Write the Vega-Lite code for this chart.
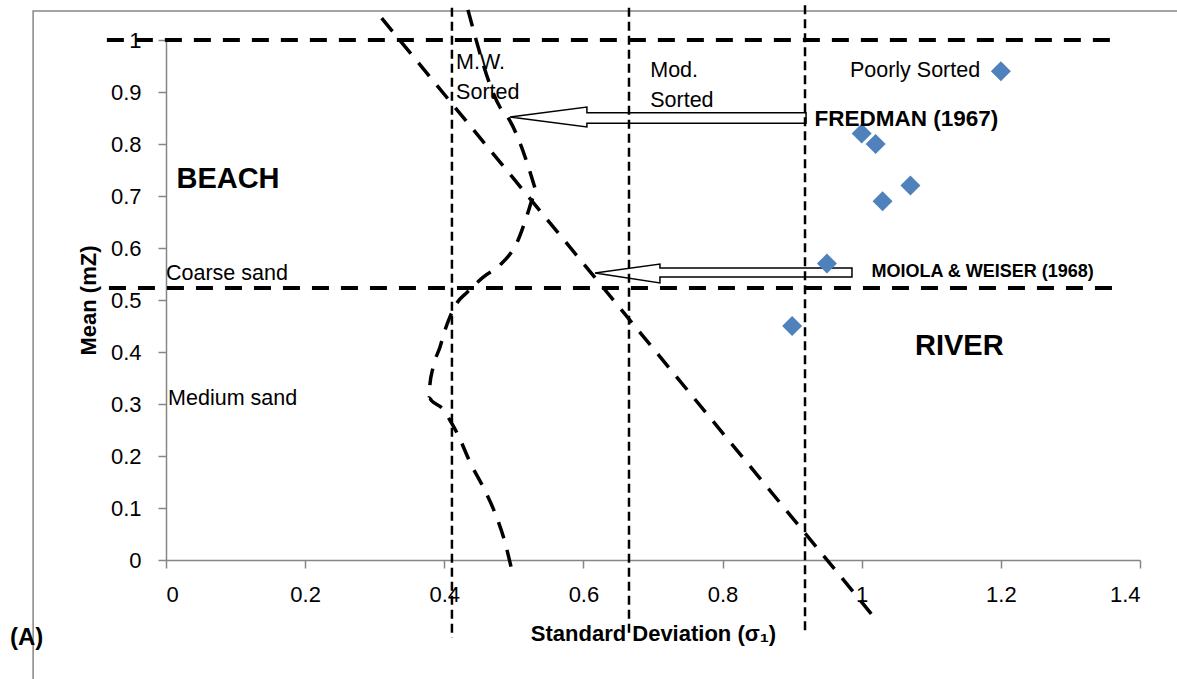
{
  "$schema": "https://vega.github.io/schema/vega-lite/v6.json",
  "width": 974,
  "height": 520,
  "autosize": {"type": "none"},
  "padding": {"left": 166, "top": 40, "right": 37, "bottom": 119},
  "background": "white",
  "config": {"view": {"stroke": null}, "font": "Liberation Sans"},
  "encoding": {
    "x": {
      "field": "x", "type": "quantitative",
      "scale": {"domain": [0, 1.4], "nice": false, "zero": false},
      "axis": {
        "title": "Standard Deviation (σ₁)",
        "values": [0, 0.2, 0.4, 0.6, 0.8, 1, 1.2, 1.4],
        "format": "~g", "grid": false,
        "labelFontSize": 22, "labelColor": "#000000", "labelPadding": 16,
        "tickColor": "#868686", "tickSize": 8, "tickWidth": 1.5,
        "domainColor": "#868686", "domainWidth": 1.5,
        "titleFontSize": 22, "titleFontWeight": "bold", "titleColor": "#000000", "titlePadding": 18
      }
    },
    "y": {
      "field": "y", "type": "quantitative",
      "scale": {"domain": [0, 1], "nice": false, "zero": false},
      "axis": {
        "title": "Mean (mZ)",
        "values": [0, 0.1, 0.2, 0.3, 0.4, 0.5, 0.6, 0.7, 0.8, 0.9, 1],
        "format": "~g", "grid": false,
        "labelFontSize": 22, "labelColor": "#000000", "labelPadding": 17,
        "tickColor": "#868686", "tickSize": 8, "tickWidth": 1.5,
        "domainColor": "#868686", "domainWidth": 1.5,
        "titleFontSize": 22, "titleFontWeight": "bold", "titleColor": "#000000", "titlePadding": 10
      }
    }
  },
  "layer": [
    {
      "data": {"values": [{"x": -0.191, "x2": 1.7, "y": 1.0558, "y2": -0.5}]},
      "mark": {"type": "rect", "fill": null, "stroke": "#868686", "strokeWidth": 1.5, "clip": false},
      "encoding": {"x2": {"field": "x2"}, "y2": {"field": "y2"}}
    },
    {
      "data": {"values": [
        {"id": "F", "i": 0, "x": 0.4945, "y": 0.852},
        {"id": "F", "i": 1, "x": 0.605, "y": 0.871},
        {"id": "F", "i": 2, "x": 0.605, "y": 0.860},
        {"id": "F", "i": 3, "x": 0.920, "y": 0.860},
        {"id": "F", "i": 4, "x": 0.920, "y": 0.840},
        {"id": "F", "i": 5, "x": 0.605, "y": 0.840},
        {"id": "F", "i": 6, "x": 0.605, "y": 0.8327},
        {"id": "F", "i": 7, "x": 0.4945, "y": 0.852},
        {"id": "M", "i": 0, "x": 0.6166, "y": 0.552},
        {"id": "M", "i": 1, "x": 0.710, "y": 0.569},
        {"id": "M", "i": 2, "x": 0.710, "y": 0.5615},
        {"id": "M", "i": 3, "x": 0.986, "y": 0.5615},
        {"id": "M", "i": 4, "x": 0.986, "y": 0.5442},
        {"id": "M", "i": 5, "x": 0.710, "y": 0.5442},
        {"id": "M", "i": 6, "x": 0.710, "y": 0.5327},
        {"id": "M", "i": 7, "x": 0.6166, "y": 0.552}
      ]},
      "mark": {"type": "line", "color": "#000000", "strokeWidth": 1.5, "strokeJoin": "miter"},
      "encoding": {"detail": {"field": "id"}, "order": {"field": "i", "type": "quantitative"}}
    },
    {
      "data": {"values": [
        {"x": -0.085, "x2": 1.361, "y": 1.0},
        {"x": -0.082, "x2": 1.3655, "y": 0.523}
      ]},
      "mark": {"type": "rule", "color": "#000000", "strokeWidth": 4, "strokeDash": [17, 12]},
      "encoding": {"x2": {"field": "x2"}}
    },
    {
      "data": {"values": [
        {"x": 0.411, "y": 1.062, "y2": -0.15},
        {"x": 0.6655, "y": 1.062, "y2": -0.148},
        {"x": 0.9185, "y": 1.067, "y2": -0.14}
      ]},
      "mark": {"type": "rule", "color": "#000000", "strokeWidth": 2.5, "strokeDash": [9, 5]},
      "encoding": {"y2": {"field": "y2"}}
    },
    {
      "data": {"values": [{"x": 0.310, "y": 1.042, "x2": 1.019, "y2": -0.112}]},
      "mark": {"type": "rule", "color": "#000000", "strokeWidth": 3.5, "strokeDash": [17, 12]},
      "encoding": {"x2": {"field": "x2"}, "y2": {"field": "y2"}}
    },
    {
      "data": {"values": [
        {"i": 0, "x": 0.434, "y": 1.058},
        {"i": 1, "x": 0.480, "y": 0.871},
        {"i": 2, "x": 0.492, "y": 0.850},
        {"i": 3, "x": 0.530, "y": 0.717},
        {"i": 4, "x": 0.532, "y": 0.708},
        {"i": 5, "x": 0.526, "y": 0.692},
        {"i": 6, "x": 0.520, "y": 0.667},
        {"i": 7, "x": 0.506, "y": 0.615},
        {"i": 8, "x": 0.480, "y": 0.567},
        {"i": 9, "x": 0.456, "y": 0.544},
        {"i": 10, "x": 0.433, "y": 0.515},
        {"i": 11, "x": 0.418, "y": 0.494},
        {"i": 12, "x": 0.408, "y": 0.467},
        {"i": 13, "x": 0.401, "y": 0.442},
        {"i": 14, "x": 0.394, "y": 0.410},
        {"i": 15, "x": 0.384, "y": 0.371},
        {"i": 16, "x": 0.379, "y": 0.333},
        {"i": 17, "x": 0.378, "y": 0.312},
        {"i": 18, "x": 0.382, "y": 0.306},
        {"i": 19, "x": 0.398, "y": 0.290},
        {"i": 20, "x": 0.408, "y": 0.269},
        {"i": 21, "x": 0.420, "y": 0.240},
        {"i": 22, "x": 0.437, "y": 0.188},
        {"i": 23, "x": 0.456, "y": 0.140},
        {"i": 24, "x": 0.473, "y": 0.090},
        {"i": 25, "x": 0.487, "y": 0.035},
        {"i": 26, "x": 0.497, "y": -0.019}
      ]},
      "mark": {"type": "line", "color": "#000000", "strokeWidth": 3.5, "strokeDash": [17, 12], "interpolate": "monotone"},
      "encoding": {"order": {"field": "i", "type": "quantitative"}}
    },
    {
      "data": {"values": [
        {"x": 1.2, "y": 0.94},
        {"x": 1.0, "y": 0.82},
        {"x": 1.02, "y": 0.80},
        {"x": 1.07, "y": 0.72},
        {"x": 1.03, "y": 0.69},
        {"x": 0.95, "y": 0.57},
        {"x": 0.90, "y": 0.45}
      ]},
      "mark": {"type": "point", "shape": "diamond", "filled": true, "color": "#4F81BD", "opacity": 1, "size": 400}
    },
    {
      "data": {"values": [
        {"x": 0.015, "y": 0.715, "label": "BEACH"},
        {"x": 1.0766, "y": 0.394, "label": "RIVER"}
      ]},
      "mark": {"type": "text", "align": "left", "baseline": "alphabetic", "fontSize": 29, "fontWeight": "bold", "color": "#000000"},
      "encoding": {"text": {"field": "label"}}
    },
    {
      "data": {"values": [
        {"x": 0.0, "y": 0.5385, "label": "Coarse sand"},
        {"x": 0.003, "y": 0.298, "label": "Medium sand"},
        {"x": 0.417, "y": 0.944, "label": "M.W."},
        {"x": 0.417, "y": 0.8865, "label": "Sorted"},
        {"x": 0.696, "y": 0.929, "label": "Mod."},
        {"x": 0.696, "y": 0.871, "label": "Sorted"},
        {"x": 0.983, "y": 0.929, "label": "Poorly Sorted"}
      ]},
      "mark": {"type": "text", "align": "left", "baseline": "alphabetic", "fontSize": 21.5, "color": "#000000"},
      "encoding": {"text": {"field": "label"}}
    },
    {
      "data": {"values": [{"x": 0.932, "y": 0.8346, "label": "FREDMAN (1967)"}]},
      "mark": {"type": "text", "align": "left", "baseline": "alphabetic", "fontSize": 22.5, "fontWeight": "bold", "color": "#000000"},
      "encoding": {"text": {"field": "label"}}
    },
    {
      "data": {"values": [{"x": 1.014, "y": 0.544, "label": "MOIOLA & WEISER (1968)"}]},
      "mark": {"type": "text", "align": "left", "baseline": "alphabetic", "fontSize": 18, "fontWeight": "bold", "color": "#000000"},
      "encoding": {"text": {"field": "label"}}
    },
    {
      "data": {"values": [{"x": -0.2242, "y": -0.1635, "label": "(A)"}]},
      "mark": {"type": "text", "align": "left", "baseline": "alphabetic", "fontSize": 24, "fontWeight": "bold", "color": "#000000"},
      "encoding": {"text": {"field": "label"}}
    }
  ]
}
